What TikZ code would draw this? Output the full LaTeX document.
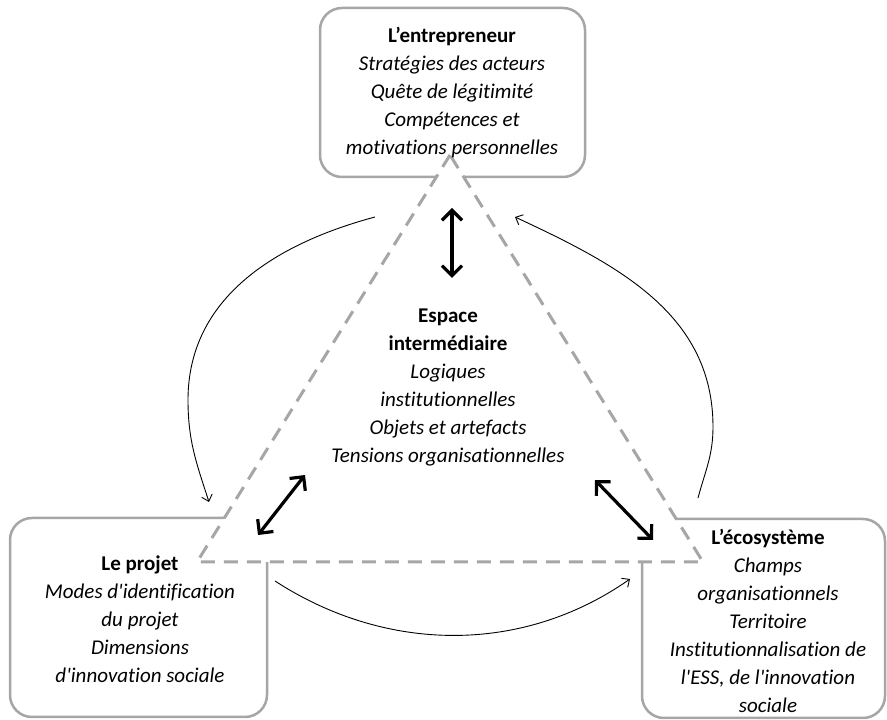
\documentclass[tikz,border=0pt]{standalone}
\usepackage{fontspec}
\setmainfont{Carlito}[Ligatures={TeXOff,NoCommon}]
\usepackage{tikz}
\usetikzlibrary{arrows.meta}
\definecolor{framegray}{HTML}{A6A6A6}

\begin{document}
\begin{tikzpicture}[x=1pt, y=1pt,
  boxframe/.style={draw=framegray, line width=2.5pt, rounded corners=22pt, fill=white},
  boxtext/.style={align=center, font=\fontsize{21}{28}\selectfont},
  doublearr/.style={{Straight Barb[length=10pt,width=20pt]}-{Straight Barb[length=10pt,width=20pt]}, line width=3.2pt},
  cyclearr/.style={-{Straight Barb[length=6pt,width=11pt]}, line width=0.9pt}]
\useasboundingbox (0,0) rectangle (887,720);

\coordinate (A) at (450,565); % apex of the triangle
\coordinate (B) at (197,158);
\coordinate (C) at (703,158);
%

% boxes
\draw[boxframe] (320,543) rectangle (585,712);
\draw[boxframe] (10,3) rectangle (267,202);
\draw[boxframe] (642,2) rectangle (885,201);

% intermediate space
\draw[draw=framegray, line width=3pt, dash pattern=on 14pt off 9pt, fill=white] (A) -- (B) -- (C) -- cycle;

\node[boxtext] (entrepreneur) at (452,627) {\textbf{L’entrepreneur}\\\textit{Stratégies des acteurs}\\\textit{Quête de légitimité}\\\textit{Compétences et}\\\textit{motivations personnelles}};
\node[boxtext] (projet) at (140,101) {\textbf{Le projet}\\\textit{Modes d'identification}\\\textit{du projet}\\\textit{Dimensions}\\\textit{d'innovation sociale}};
\node[boxtext] (ecosysteme) at (768,99) {\textbf{L’écosystème}\\\textit{Champs}\\\textit{organisationnels}\\\textit{Territoire}\\\textit{Institutionnalisation de}\\\textit{l'ESS, de l'innovation}\\\textit{sociale}};
\node[boxtext] (espace) at (448,333) {\textbf{Espace}\\\textbf{intermédiaire}\\\textit{Logiques}\\\textit{institutionnelles}\\\textit{Objets et artefacts}\\\textit{Tensions organisationnelles}};

% double arrows
\coordinate (up1) at (452,512);
\coordinate (up2) at (452,442);
\coordinate (lf1) at (258,185);
\coordinate (lf2) at (305,245);
\coordinate (rt1) at (595,240);
\coordinate (rt2) at (653,180);
\draw[doublearr] (up1) -- (up2);
\draw[doublearr] (lf1) -- (lf2);
\draw[doublearr] (rt1) -- (rt2);

% cycle
\coordinate (c1) at (375,503);
\coordinate (c2) at (188,320);
\coordinate (c3) at (209,218);
\coordinate (c4) at (275,139);
\coordinate (c5) at (630,141);
\coordinate (c6) at (698,222);
\coordinate (c7) at (713,293);
\coordinate (c8) at (515,503);
\draw[cyclearr] (c1) to[out=195, in=90] (c2) to[out=-90, in=108] (c3);
\draw[cyclearr] (c4) to[out=-33, in=215, looseness=0.95] (c5);
\draw[cyclearr] (c6) to[out=75, in=-90] (c7) to[out=90, in=-25] (c8);
\end{tikzpicture}
\end{document}
